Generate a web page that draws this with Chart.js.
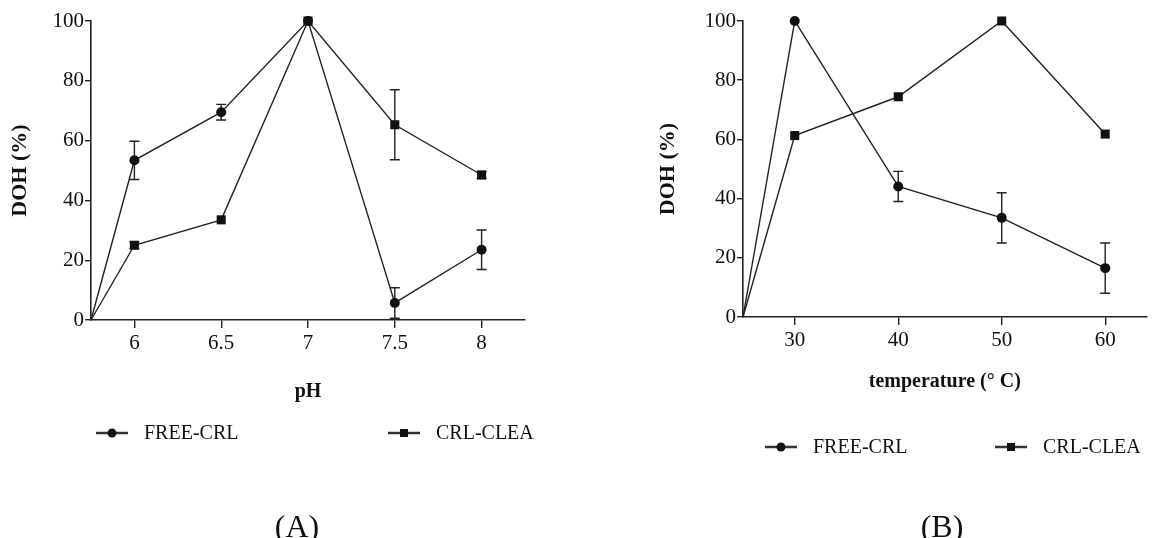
<!DOCTYPE html>
<html>
<head>
<meta charset="utf-8">
<script src="https://cdn.jsdelivr.net/npm/chart.js@4.4.0/dist/chart.umd.min.js"></script>
<style>
  html, body { margin: 0; padding: 0; background: #fff; }
  body { width: 1153px; height: 538px; position: relative; overflow: hidden; }
  .panel { position: absolute; top: 0; }
  #panelA { left: 0; }
  #panelB { left: 576px; }
  .tag { position: absolute; font: 32px 'Liberation Serif', serif; line-height: 32px; color: #111; transform: translateX(-50%); }
</style>
</head>
<body>
<div class="panel" id="panelA"><canvas id="chartA" width="576" height="538"></canvas></div>
<div class="panel" id="panelB"><canvas id="chartB" width="577" height="538"></canvas></div>
<div class="tag" style="left:297px; top:510px;">(A)</div>
<div class="tag" style="left:942px; top:510px;">(B)</div>
<script>
// panel A: pH
const phLevels = [5.75, 6, 6.5, 7, 7.5, 8];
const phTicks = [6, 6.5, 7, 7.5, 8];
const freeByPh = [0, 53.4, 69.5, 100, 5.7, 23.5];
const freeByPhErr = [0, 6.4, 2.6, 0, 5.1, 6.6];
const cleaByPh = [0, 25, 33.5, 100, 65.3, 48.5];
const cleaByPhErr = [0, 1.1, 0, 0, 11.7, 1.2];

// panel B: temperature
const temps = [25, 30, 40, 50, 60];
const tempTicks = [30, 40, 50, 60];
const freeByTemp = [0, 100, 44.1, 33.5, 16.5];
const freeByTempErr = [0, 0, 5.1, 8.5, 8.5];
const cleaByTemp = [0, 61.3, 74.4, 100, 61.8];
const cleaByTempErr = [0, 0, 0, 0, 0];

const dohTicks = [0, 20, 40, 60, 80, 100];

Chart.defaults.font.family = "'Liberation Serif', 'Times New Roman', serif";
Chart.defaults.color = '#111';

const errorBars = {
  id: 'errorBars',
  beforeDatasetsDraw(chart) {
    const ctx = chart.ctx;
    const ys = chart.scales.y;
    chart.data.datasets.forEach((ds, i) => {
      const meta = chart.getDatasetMeta(i);
      meta.data.forEach((pt, j) => {
        const e = ds.errors[j];
        if (!e) return;
        const v = ds.data[j].y;
        const top = ys.getPixelForValue(v + e);
        const bot = ys.getPixelForValue(v - e);
        ctx.save();
        ctx.strokeStyle = '#222';
        ctx.lineWidth = 1.4;
        ctx.beginPath();
        ctx.moveTo(pt.x, top); ctx.lineTo(pt.x, bot);
        ctx.moveTo(pt.x - 5, top); ctx.lineTo(pt.x + 5, top);
        ctx.moveTo(pt.x - 5, bot); ctx.lineTo(pt.x + 5, bot);
        ctx.stroke();
        ctx.restore();
      });
    });
  }
};

// legend drawn under the axis title, two items far apart
const sideLegend = {
  id: 'sideLegend',
  afterDraw(chart, args, opts) {
    const ctx = chart.ctx;
    chart.data.datasets.forEach((ds, i) => {
      const x = opts.items[i];
      const y = opts.y;
      ctx.save();
      ctx.strokeStyle = '#333';
      ctx.lineWidth = 2.5;
      ctx.beginPath();
      ctx.moveTo(x, y); ctx.lineTo(x + 32, y);
      ctx.stroke();
      ctx.fillStyle = '#111';
      Chart.helpers.drawPoint(ctx, { pointStyle: ds.pointStyle, radius: ds.legendRadius, borderWidth: 0, rotation: 0 }, x + 16, y);
      ctx.font = "20px 'Liberation Serif', serif";
      ctx.textBaseline = 'middle';
      ctx.fillText(ds.label, x + 48, y + 1);
      ctx.restore();
    });
  }
};

function series(label, xs, ys, errs, style, r, lr) {
  return {
    label,
    data: xs.map((x, i) => ({ x, y: ys[i] })),
    errors: errs,
    borderColor: '#222',
    borderWidth: 1.4,
    backgroundColor: '#111',
    pointStyle: style,
    pointRadius: (c) => (c.dataIndex === 0 ? 0 : r),
    legendRadius: lr,
    pointBorderWidth: 0,
    pointBackgroundColor: '#111',
    tension: 0,
    clip: false,
  };
}

function buildChart(id, g) {
  return new Chart(document.getElementById(id), {
    type: 'line',
    data: {
      datasets: [
        series('FREE-CRL', g.xs, g.free, g.freeErr, 'circle', 5, 4.5),
        series('CRL-CLEA', g.xs, g.clea, g.cleaErr, 'rect', 6.4, 5.7),
      ],
    },
    options: {
      responsive: false,
      animation: false,
      events: [],
      layout: { padding: { left: 0, top: g.top, right: g.right, bottom: g.bottom } },
      plugins: {
        legend: { display: false },
        tooltip: { enabled: false },
        sideLegend: { items: g.legendX, y: g.legendY },
      },
      scales: {
        x: {
          type: 'linear',
          min: g.xMin,
          max: g.xMax,
          afterBuildTicks: (s) => { s.ticks = g.ticks.map((v) => ({ value: v })); },
          afterFit: (s) => { s.height = g.xAxisH; },
          grid: { drawOnChartArea: false, drawTicks: true, tickLength: 8, color: '#222', lineWidth: 1.4 },
          border: { color: '#222', width: 1.6 },
          ticks: { font: { size: 21 }, color: '#111', padding: 3, autoSkip: false, maxRotation: 0, callback: (v) => String(v) },
          title: { display: true, text: g.xTitle, font: { size: 20, weight: 'bold' }, color: '#111', padding: 0 },
        },
        y: {
          type: 'linear',
          min: 0,
          max: 100,
          afterBuildTicks: (s) => { s.ticks = dohTicks.map((v) => ({ value: v })); },
          afterFit: (s) => { s.width = g.yAxisW; },
          grid: { drawOnChartArea: false, drawTicks: true, tickLength: 6, color: '#222', lineWidth: 1.4 },
          border: { color: '#222', width: 1.6 },
          ticks: { font: { size: 21 }, color: '#111', padding: 1 },
          title: { display: true, text: 'DOH (%)', font: { size: 22, weight: 'bold' }, color: '#111', padding: { top: g.yTitlePad, bottom: 0 } },
        },
      },
    },
    plugins: [errorBars, sideLegend],
  });
}

buildChart('chartA', {
  xs: phLevels, free: freeByPh, freeErr: freeByPhErr, clea: cleaByPh, cleaErr: cleaByPhErr,
  ticks: phTicks, xMin: 5.75, xMax: 8.25, xTitle: 'pH',
  top: 21, right: 51, bottom: 134, xAxisH: 84, yAxisW: 91, yTitlePad: 7,
  legendX: [96, 388], legendY: 433,
});

buildChart('chartB', {
  xs: temps, free: freeByTemp, freeErr: freeByTempErr, clea: cleaByTemp, cleaErr: cleaByTempErr,
  ticks: tempTicks, xMin: 25, xMax: 64, xTitle: 'temperature (° C)',
  top: 21, right: 0, bottom: 144, xAxisH: 77, yAxisW: 167, yTitlePad: 79,
  legendX: [189, 419], legendY: 447,
});
</script>
</body>
</html>
